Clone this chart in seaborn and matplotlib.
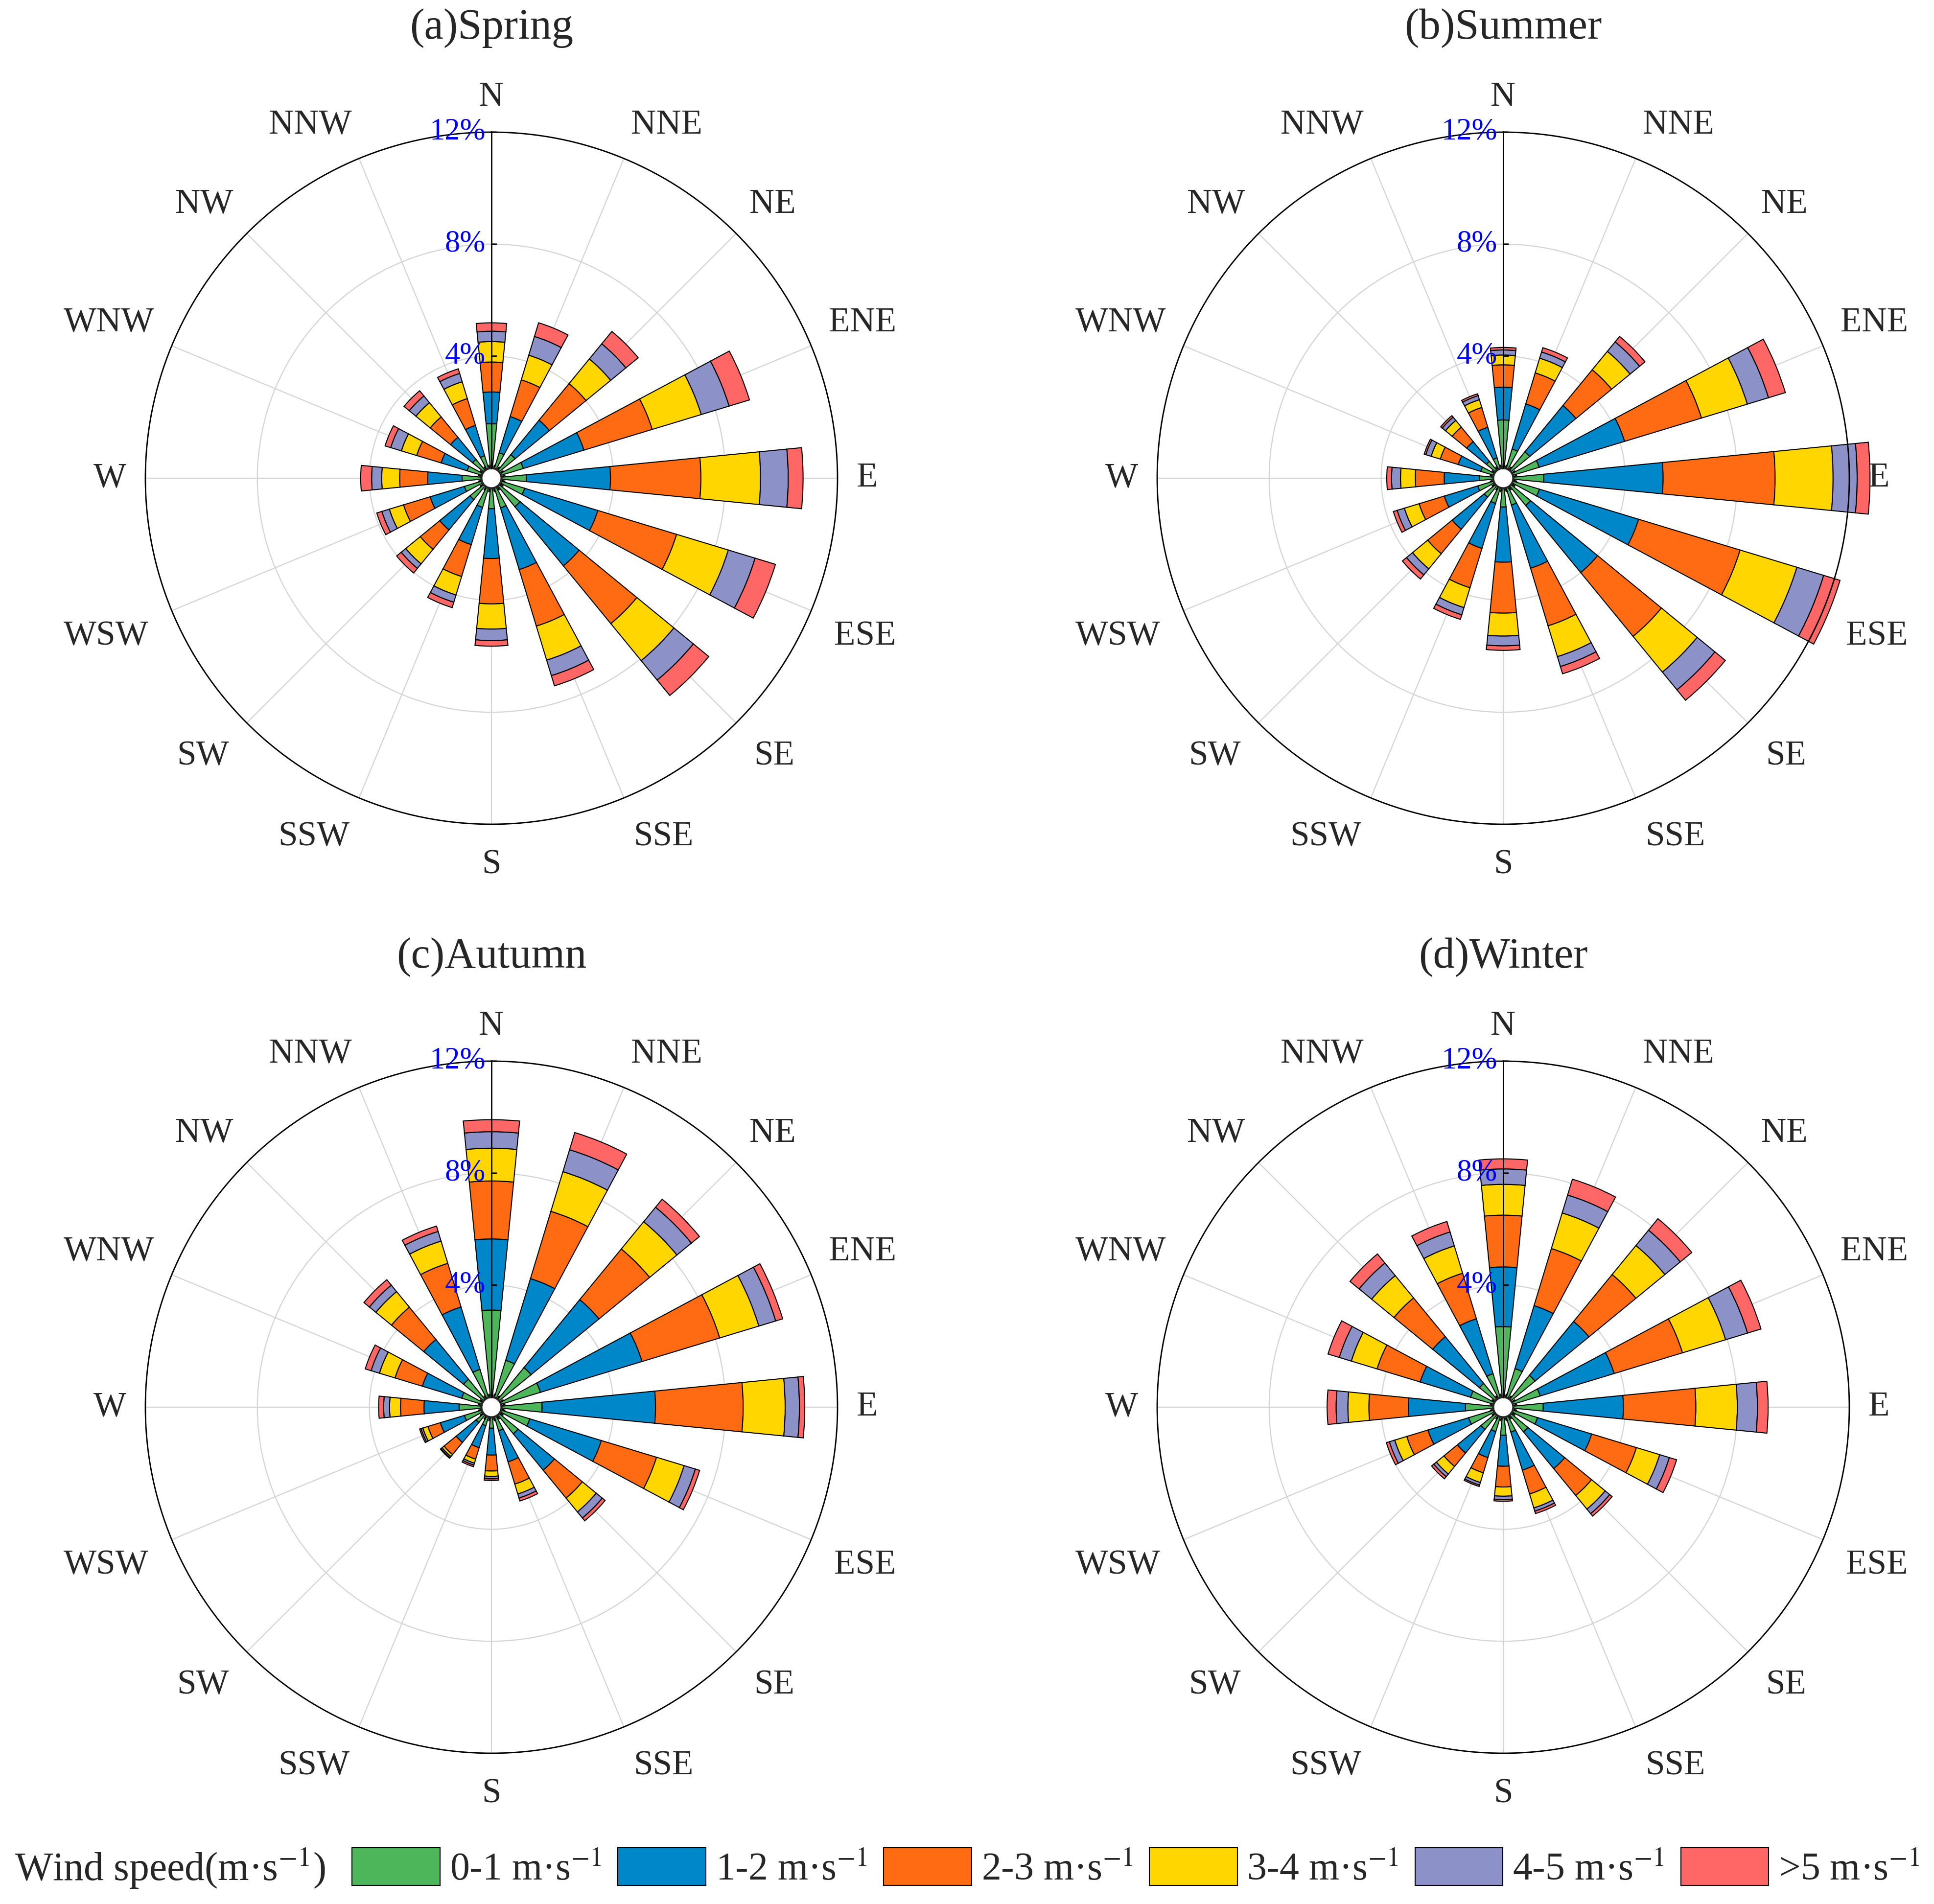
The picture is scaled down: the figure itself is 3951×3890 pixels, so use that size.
"""
Seasonal wind rose plots (frequency of wind direction by speed class).
"""

import matplotlib.pyplot as plt
import numpy as np
import pandas as pd
import seaborn as sns
from matplotlib.patches import Patch


directions = ['N', 'NNE', 'NE', 'ENE', 'E', 'ESE', 'SE', 'SSE',
              'S', 'SSW', 'SW', 'WSW', 'W', 'WNW', 'NW', 'NNW']
speed_bins = ['0-1', '1-2', '2-3', '3-4', '4-5', '>5']
speed_labels = ['0-1 m·s$^{-1}$', '1-2 m·s$^{-1}$', '2-3 m·s$^{-1}$',
                '3-4 m·s$^{-1}$', '4-5 m·s$^{-1}$', '>5 m·s$^{-1}$']
colors = ['#4EB65A', '#0087C9', '#FF6B12', '#FFD600', '#8C91C7', '#FF6666']
titles = ['(a)Spring', '(b)Summer', '(c)Autumn', '(d)Winter']

# frequency (%) per direction, N -> NNW clockwise
spring_01 = [1.59, 0.59, 0.73, 0.83, 0.89, 0.88, 0.96, 0.75, 0.73, 0.73, 0.63, 0.65, 0.69, 0.55, 0.51, 0.48]
spring_12 = [1.13, 1.35, 1.59, 2.26, 3.00, 2.73, 2.73, 2.30, 1.78, 1.39, 1.40, 1.28, 1.23, 0.97, 1.02, 1.13]
spring_23 = [1.07, 1.37, 1.69, 2.55, 3.23, 2.94, 2.67, 2.11, 1.62, 1.19, 0.90, 0.99, 1.00, 0.91, 0.94, 1.00]
spring_34 = [0.73, 0.92, 1.14, 1.83, 2.13, 1.93, 1.71, 1.27, 0.90, 0.69, 0.67, 0.53, 0.64, 0.57, 0.66, 0.63]
spring_45 = [0.37, 0.70, 0.70, 1.04, 0.99, 1.00, 0.90, 0.58, 0.41, 0.27, 0.21, 0.28, 0.36, 0.40, 0.31, 0.31]
spring_5 = [0.30, 0.51, 0.57, 0.76, 0.53, 0.76, 0.71, 0.38, 0.20, 0.20, 0.21, 0.19, 0.39, 0.21, 0.24, 0.17]

summer_01 = [1.72, 0.73, 0.86, 0.98, 1.09, 0.99, 0.90, 0.64, 0.67, 0.58, 0.52, 0.59, 0.49, 0.48, 0.42, 0.40]
summer_12 = [1.17, 1.68, 2.14, 3.19, 4.26, 3.70, 3.10, 2.36, 1.97, 1.68, 1.48, 1.25, 1.26, 0.84, 0.91, 1.14]
summer_23 = [0.80, 1.16, 1.65, 2.87, 4.00, 3.79, 2.95, 2.15, 1.82, 1.47, 1.13, 0.94, 1.03, 0.67, 0.67, 0.74]
summer_34 = [0.35, 0.55, 0.85, 1.71, 2.07, 2.12, 1.65, 1.15, 0.82, 0.74, 0.70, 0.55, 0.53, 0.34, 0.31, 0.29]
summer_45 = [0.18, 0.23, 0.44, 0.79, 0.86, 1.00, 0.82, 0.37, 0.35, 0.27, 0.28, 0.27, 0.32, 0.20, 0.15, 0.15]
summer_5 = [0.09, 0.16, 0.25, 0.63, 0.46, 0.61, 0.48, 0.27, 0.16, 0.17, 0.19, 0.14, 0.17, 0.06, 0.07, 0.07]

autumn_01 = [3.11, 1.39, 1.47, 1.47, 1.45, 1.07, 0.87, 0.52, 0.39, 0.33, 0.35, 0.65, 0.80, 0.75, 0.93, 1.05]
autumn_12 = [2.54, 3.05, 3.14, 3.79, 4.05, 2.67, 1.68, 1.16, 0.96, 0.82, 0.92, 0.90, 1.25, 1.47, 1.84, 2.33]
autumn_23 = [2.07, 2.51, 2.34, 2.90, 3.13, 2.06, 1.29, 0.83, 0.57, 0.43, 0.56, 0.46, 0.84, 1.02, 1.49, 1.63]
autumn_34 = [1.17, 1.48, 1.26, 1.46, 1.50, 1.03, 0.64, 0.37, 0.19, 0.15, 0.09, 0.19, 0.39, 0.58, 0.72, 0.83]
autumn_45 = [0.59, 0.82, 0.67, 0.63, 0.51, 0.42, 0.28, 0.15, 0.09, 0.07, 0.05, 0.07, 0.21, 0.31, 0.30, 0.36]
autumn_5 = [0.43, 0.64, 0.37, 0.26, 0.19, 0.16, 0.13, 0.11, 0.06, 0.06, 0.03, 0.05, 0.18, 0.22, 0.25, 0.20]

winter_01 = [2.52, 1.08, 1.11, 1.02, 1.07, 0.92, 0.78, 0.57, 0.64, 0.55, 0.67, 0.93, 0.99, 0.86, 0.74, 0.89]
winter_12 = [2.13, 2.35, 2.49, 2.76, 2.86, 2.02, 1.70, 1.42, 1.11, 0.97, 1.09, 1.52, 2.04, 1.88, 2.16, 2.05]
winter_23 = [1.85, 2.13, 2.17, 2.55, 2.59, 1.67, 1.24, 0.89, 0.74, 0.57, 0.62, 0.79, 1.41, 1.61, 1.79, 1.70]
winter_34 = [1.10, 1.33, 1.34, 1.61, 1.48, 0.87, 0.63, 0.52, 0.33, 0.36, 0.35, 0.45, 0.75, 0.96, 1.03, 1.02]
winter_45 = [0.55, 0.67, 0.71, 0.82, 0.72, 0.36, 0.21, 0.12, 0.12, 0.10, 0.12, 0.20, 0.42, 0.45, 0.58, 0.52]
winter_5 = [0.36, 0.59, 0.53, 0.50, 0.38, 0.27, 0.11, 0.09, 0.06, 0.05, 0.10, 0.11, 0.32, 0.42, 0.42, 0.39]


def build_table():
    """
    Long-form table: season, direction, speed bin, frequency.
    """

    season_series = {
        titles[0]: [spring_01, spring_12, spring_23, spring_34, spring_45, spring_5],
        titles[1]: [summer_01, summer_12, summer_23, summer_34, summer_45, summer_5],
        titles[2]: [autumn_01, autumn_12, autumn_23, autumn_34, autumn_45, autumn_5],
        titles[3]: [winter_01, winter_12, winter_23, winter_34, winter_45, winter_5],
    }
    rows = []
    for season, series in season_series.items():
        for speed, vals in zip(speed_bins, series):
            for d, v in zip(directions, vals):
                rows.append((season, d, speed, v))
    return pd.DataFrame(rows, columns=['season', 'direction', 'speed', 'freq'])


def draw_rose(ax, df, title):
    """
    Stacked wind rose on a polar axes.
    """

    theta = np.deg2rad(np.arange(len(directions)) * 22.5)
    table = df.pivot(index='direction', columns='speed', values='freq')
    table = table.loc[directions, speed_bins]

    ax.set_theta_zero_location('N')
    ax.set_theta_direction(-1)
    ax.set_rorigin(-0.36)
    ax.set_ylim(0, 12)
    ax.set_axisbelow(True)

    bottom = np.zeros(len(directions))
    for speed, color in zip(speed_bins, colors):
        vals = table[speed].values
        ax.bar(theta, vals, width=np.pi / 16, bottom=bottom, color=color,
               edgecolor='black', linewidth=0.6, clip_on=False, zorder=1)
        bottom += vals

    # grid and ticks
    ax.set_xticks(theta)
    ax.set_xticklabels([])
    ax.set_xticks(theta + np.pi / 16, minor=True)
    ax.tick_params(axis='x', which='major', direction='in', length=7.7,
                   width=0.8, color='black', bottom=True, top=False)
    ax.tick_params(axis='x', which='minor', direction='in', length=2.4,
                   width=0.8, color='black', bottom=True, top=False)
    ax.set_yticks([4, 8, 12])
    ax.set_yticklabels([])
    ax.tick_params(axis='y', length=0)
    ax.grid(True, color='#d4d4d4', linewidth=0.65)
    ax.spines['polar'].set_color('black')
    ax.spines['polar'].set_linewidth(0.8)
    ax.spines['inner'].set_visible(False)

    # north axis with percentage labels
    ax.plot([0, 0], [0, 12], color='black', linewidth=0.8, zorder=3, clip_on=False)
    for v in [4, 8, 12]:
        ax.annotate('', xy=(0, v), xytext=(3, 0), textcoords='offset points',
                    arrowprops=dict(arrowstyle='-', lw=0.8, color='black',
                                    shrinkA=0, shrinkB=0), zorder=3)
        ax.annotate(f'{v}%', xy=(0, v), xytext=(-3.5, 0), textcoords='offset points',
                    ha='right', va='center', color='blue', fontsize=18, zorder=4)

    # direction labels outside the circle
    for d, t in zip(directions, theta):
        s, c = np.sin(t), np.cos(t)
        ha = 'center' if abs(s) < 0.01 else ('left' if s > 0 else 'right')
        va = 'center' if abs(c) < 0.01 else ('bottom' if c > 0 else 'top')
        r = 1.055 if c > -0.01 else 1.072
        ax.text(0.5 + 0.5 * r * s, 0.5 + 0.5 * r * c, d,
                transform=ax.transAxes, ha=ha, va=va, fontsize=20.5)

    ax.text(0.5, 1.15, title, transform=ax.transAxes, ha='center',
            va='center', fontsize=25.5)


def main():
    """
    """

    sns.set_theme(style='ticks')
    plt.rcParams['font.family'] = ['Liberation Serif', 'DejaVu Serif']
    plt.rcParams['mathtext.fontset'] = 'stix'

    df = build_table()

    fig = plt.figure(figsize=(15.804, 15.56), dpi=250)
    positions = [(0.07517, 0.56710), (0.59833, 0.56710),
                 (0.07517, 0.07918), (0.59833, 0.07918)]
    for title, (left, bottom) in zip(titles, positions):
        ax = fig.add_axes([left, bottom, 0.35788, 0.36350], projection='polar')
        draw_rose(ax, df[df['season'] == title], title)

    # legend row
    fig.text(0.0075, 0.019, 'Wind speed(m·s$^{-1}$)', fontsize=23.5,
             ha='left', va='center')
    handles = [Patch(facecolor=c, edgecolor='black', linewidth=0.6) for c in colors]
    fig.legend(handles, speed_labels, loc='center left',
               bbox_to_anchor=(0.182, 0.019), ncol=6, frameon=False,
               fontsize=23, handlelength=2.25, handleheight=1.1,
               handletextpad=0.25, columnspacing=0.42, borderpad=0,
               borderaxespad=0)

    fig.savefig('out.png', dpi=250)


if __name__ == '__main__':
    main()
